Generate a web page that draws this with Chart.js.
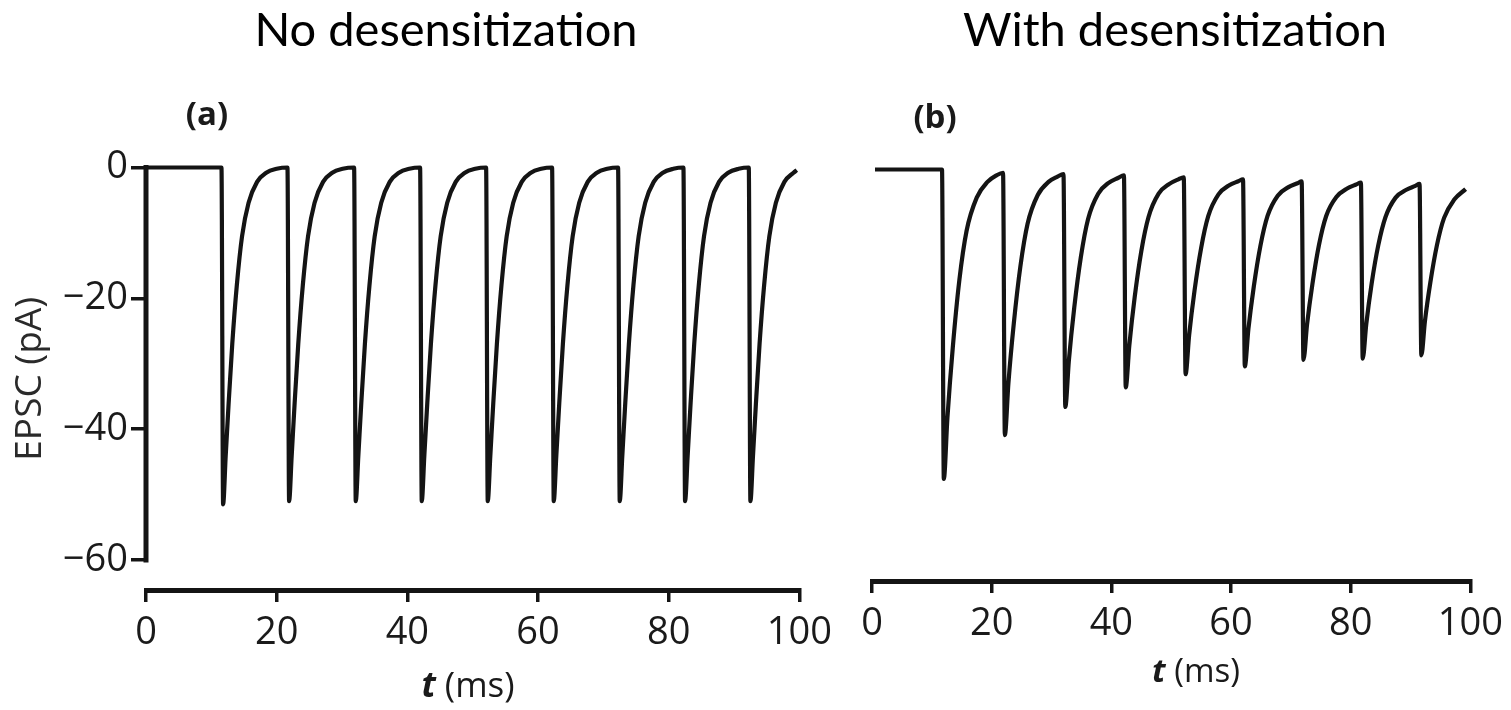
<!DOCTYPE html>
<html>
<head>
<meta charset="utf-8">
<script src="https://cdn.jsdelivr.net/npm/chart.js@4.4.1/dist/chart.umd.min.js"></script>
<style>
  body { margin: 0; background: #fff; }
  #page { position: relative; width: 1511px; height: 710px; overflow: hidden; background: #fff; }
  canvas { position: absolute; top: 0; }
  .txt { position: absolute; line-height: 1; white-space: nowrap; transform: translateX(-50%); color: #000; }
  .title { font-family: Lato, "Open Sans", sans-serif; font-size: 47px; top: 5px; }
  .panel { font-family: "Open Sans", sans-serif; font-weight: bold; font-size: 33px; color: #1a1a1a; }
  .xtitle { font-family: "Open Sans", sans-serif; font-size: 35px; color: #1a1a1a; }
  .xtitle b { font-style: italic; }
</style>
</head>
<body>
<div id="page">
  <canvas id="chart-a" width="840" height="710" style="left:0"></canvas>
  <canvas id="chart-b" width="671" height="710" style="left:840px"></canvas>
  <div class="txt title" style="left:446px">No desensitization</div>
  <div class="txt title" style="left:1175px">With desensitization</div>
  <div class="txt panel" style="left:207px; top:96px">(a)</div>
  <div class="txt panel" style="left:935px; top:99px">(b)</div>
  <div class="txt xtitle" style="left:468px; top:666px"><b>t</b> (ms)</div>
  <div class="txt xtitle" style="left:1196px; top:653px; font-size:33px"><b>t</b> (ms)</div>
</div>
<script>
// ===== Data =====
// Panel (a): no desensitization, time (ms) and EPSC (pA)
const timeA = [
    0, 11.55,
    11.8, 12.2, 12.65, 13.2, 13.9, 14.7, 15.7, 17.0, 18.4, 20.0, 21.65,
    21.9, 22.3, 22.75, 23.3, 24.0, 24.8, 25.8, 27.1, 28.5, 30.1, 31.85,
    32.1, 32.5, 32.95, 33.5, 34.2, 35.0, 36.0, 37.3, 38.7, 40.3, 41.95,
    42.2, 42.6, 43.05, 43.6, 44.3, 45.1, 46.1, 47.4, 48.8, 50.4, 52.05,
    52.3, 52.7, 53.15, 53.7, 54.4, 55.2, 56.2, 57.5, 58.9, 60.5, 62.15,
    62.4, 62.8, 63.25, 63.8, 64.5, 65.3, 66.3, 67.6, 69.0, 70.6, 72.25,
    72.5, 72.9, 73.35, 73.9, 74.6, 75.4, 76.4, 77.7, 79.1, 80.7, 82.25,
    82.5, 82.9, 83.35, 83.9, 84.6, 85.4, 86.4, 87.7, 89.1, 90.7, 92.25,
    92.5, 92.9, 93.35, 93.9, 94.6, 95.4, 96.4, 97.7, 99.1, 99.6
];
const epscA = [
    0, 0,
    -51.5, -44, -36, -27, -18, -10.5, -5.4, -2.2, -0.8, -0.2, 0,
    -51, -44, -36, -27, -18, -10.5, -5.4, -2.2, -0.8, -0.2, 0,
    -51, -44, -36, -27, -18, -10.5, -5.4, -2.2, -0.8, -0.2, 0,
    -51, -44, -36, -27, -18, -10.5, -5.4, -2.2, -0.8, -0.2, 0,
    -51, -44, -36, -27, -18, -10.5, -5.4, -2.2, -0.8, -0.2, 0,
    -51, -44, -36, -27, -18, -10.5, -5.4, -2.2, -0.8, -0.2, 0,
    -51, -44, -36, -27, -18, -10.5, -5.4, -2.2, -0.8, -0.2, 0,
    -51, -44, -36, -27, -18, -10.5, -5.4, -2.2, -0.8, -0.2, 0,
    -51, -44, -36, -27, -18, -10.5, -5.4, -2.2, -0.8, -0.4
];

// Panel (b): with desensitization
const timeB = [
    0.5, 11.7,
    12.0, 12.6, 13.5, 14.6, 15.8, 17.5, 19.3, 20.8, 21.9,
    22.2, 22.8, 23.7, 24.8, 26.0, 27.7, 29.5, 31.0, 32.0,
    32.3, 32.9, 33.8, 34.9, 36.1, 37.8, 39.6, 41.1, 42.1,
    42.4, 43.0, 43.9, 45.0, 46.2, 47.9, 49.7, 51.2, 52.1,
    52.4, 53.0, 53.9, 55.0, 56.2, 57.9, 59.7, 61.2, 62.0,
    62.3, 62.9, 63.8, 64.9, 66.1, 67.8, 69.6, 71.1, 71.8,
    72.1, 72.7, 73.6, 74.7, 75.9, 77.6, 79.4, 80.9, 81.7,
    82.0, 82.6, 83.5, 84.6, 85.8, 87.5, 89.3, 90.8, 91.5,
    91.8, 92.4, 93.3, 94.4, 95.6, 97.3, 99.2
];
const epscB = [
    0, 0,
    -47.3, -38.0, -27.2, -16.9, -9.4, -4.3, -1.9, -0.9, -0.5,
    -40.6, -32.6, -23.5, -14.8, -8.3, -3.9, -1.9, -1.1, -0.7,
    -36.3, -29.2, -21.1, -13.4, -7.6, -3.7, -2.0, -1.3, -0.9,
    -33.3, -26.9, -19.5, -12.5, -7.3, -3.7, -2.2, -1.5, -1.2,
    -31.3, -25.3, -18.5, -12.0, -7.1, -3.8, -2.4, -1.8, -1.5,
    -30.1, -24.4, -17.9, -11.7, -7.1, -4.0, -2.7, -2.1, -1.8,
    -29.1, -23.7, -17.5, -11.5, -7.1, -4.2, -2.9, -2.3, -2.0,
    -28.9, -23.6, -17.4, -11.6, -7.3, -4.3, -3.1, -2.5, -2.2,
    -28.4, -23.2, -17.3, -11.6, -7.4, -4.6, -3.0
];

// Axis ticks
const xTicks = [0, 20, 40, 60, 80, 100];
const yTicks = [0, -20, -40, -60];

// ===== Style =====
const INK = "#141414";
const TICK_FONT = { family: "'Open Sans', sans-serif", size: 38 };

function toPoints(xs, ys) {
    return xs.map(function(x, i) { return { x: x, y: ys[i] }; });
}

function fmtTick(v) {
    return v < 0 ? "\u2212" + Math.abs(v) : String(v);
}

// y axis spine only from 0 to -60, like the original figure
const ySpine = {
    id: "ySpine",
    afterDraw(chart) {
        const y = chart.scales.y;
        if (!y.options.display) return;
        const ctx = chart.ctx;
        const x0 = chart.chartArea.left;
        ctx.save();
        ctx.strokeStyle = INK;
        ctx.lineWidth = 5;
        ctx.lineCap = "square";
        ctx.beginPath();
        ctx.moveTo(x0, y.getPixelForValue(yTicks[0]));
        ctx.lineTo(x0, y.getPixelForValue(yTicks[yTicks.length - 1]));
        ctx.stroke();
        ctx.restore();
    }
};

function makeChart(id, xs, ys, opts) {
    const ctx = document.getElementById(id).getContext("2d");
    return new Chart(ctx, {
        type: "line",
        data: {
            datasets: [{
                data: toPoints(xs, ys),
                borderColor: INK,
                borderWidth: 4.2,
                pointRadius: 0,
                cubicInterpolationMode: "monotone",
                clip: 10,
            }],
        },
        options: {
            responsive: false,
            animation: false,
            devicePixelRatio: 1,
            layout: { padding: opts.padding },
            plugins: { legend: { display: false }, tooltip: { enabled: false } },
            scales: {
                x: {
                    type: "linear",
                    min: 0,
                    max: 100,
                    afterBuildTicks: function(scale) {
                        scale.ticks = xTicks.map(function(v) { return { value: v }; });
                    },
                    afterFit: function(scale) { scale.height = opts.xHeight; },
                    border: { display: true, color: INK, width: 5 },
                    grid: { drawOnChartArea: false, drawTicks: true, tickLength: 12, lineWidth: 3.5, color: INK },
                    ticks: { font: TICK_FONT, color: "#1a1a1a", padding: 8, maxRotation: 0 },
                },
                y: {
                    display: opts.showY,
                    min: opts.yMin,
                    max: 0,
                    afterBuildTicks: function(scale) {
                        scale.ticks = yTicks.map(function(v) { return { value: v }; });
                    },
                    afterFit: function(scale) { scale.width = opts.showY ? 146 : 0; },
                    border: { display: false },
                    grid: { drawOnChartArea: false, drawTicks: true, tickLength: 15, lineWidth: 3.5, color: INK },
                    ticks: { font: TICK_FONT, color: "#1a1a1a", padding: 3, callback: fmtTick },
                    title: {
                        display: true,
                        text: "EPSC (pA)",
                        color: "#2a2a2a",
                        font: { family: "'Open Sans', sans-serif", size: 37 },
                        padding: { top: 8, bottom: 0 },
                    },
                },
            },
        },
        plugins: [ySpine],
    });
}

makeChart("chart-a", timeA, epscA, {
    padding: { left: 0, top: 167.5, right: 32, bottom: 0 },
    xHeight: 120,
    yMin: -64.6,
    showY: true,
});

makeChart("chart-b", timeB, epscB, {
    padding: { left: 32, top: 169.5, right: 38, bottom: 0 },
    xHeight: 129,
    yMin: -62.9,
    showY: false,
});
</script>
</body>
</html>
